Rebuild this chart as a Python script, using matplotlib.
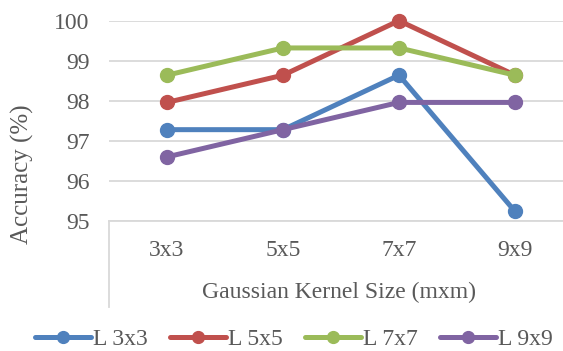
import matplotlib
matplotlib.use("Agg")
import matplotlib.pyplot as plt
from matplotlib.lines import Line2D

# kernel sizes on the x axis and accuracy per L setting
kernels = ["3x3", "5x5", "7x7", "9x9"]
acc_l3 = [97.28, 97.28, 98.64, 95.24]
acc_l5 = [97.96, 98.64, 100.0, 98.64]
acc_l7 = [98.64, 99.32, 99.32, 98.64]
acc_l9 = [96.60, 97.28, 97.96, 97.96]
series_names = ["L 3x3", "L 5x5", "L 7x7", "L 9x9"]
colors = ["#4F81BD", "#C0504D", "#9BBB59", "#8064A2"]

plt.rcParams['font.family'] = ['Liberation Serif', 'DejaVu Serif']
text_col = "#595959"
grid_col = "#D9D9D9"
fs = 17

W, H = 563, 351
fig = plt.figure(figsize=(W / 100, H / 100), dpi=100)
# plot area in pixels: left 109, top 20.7, bottom 221, right beyond the edge
ax = fig.add_axes([109 / W, (H - 221) / H, 464 / W, (221 - 20.7) / H])

x = range(len(kernels))
for vals, name, c in zip([acc_l3, acc_l5, acc_l7, acc_l9], series_names, colors):
    ax.plot(x, vals, color=c, lw=3.6, marker='o', ms=10, label=name,
            solid_capstyle='round', clip_on=False, zorder=3)

ax.set_xlim(-0.5, len(kernels) - 0.5)
ax.set_ylim(95, 100)
ax.set_yticks([95, 96, 97, 98, 99, 100])
ax.yaxis.grid(True, color=grid_col, lw=1.3)
ax.set_axisbelow(True)
for s in ['left', 'right', 'top']:
    ax.spines[s].set_visible(False)
ax.spines['bottom'].set_color(grid_col)
ax.spines['bottom'].set_linewidth(1.3)
ax.tick_params(axis='y', length=0, pad=14, labelsize=fs, labelcolor=text_col)
ax.tick_params(axis='x', length=0, labelbottom=False)

# category labels and axis title under the plot
for i, k in enumerate(kernels):
    xp = ax.transData.transform((i, 95))[0] / W
    fig.text(xp, 1 - 250 / H, k, ha='center', va='center', fontsize=fs, color=text_col)
fig.text(339 / W, 1 - 292 / H, "Gaussian Kernel Size (mxm)", ha='center', va='center',
         fontsize=fs, color=text_col)
fig.add_artist(Line2D([109 / W, 109 / W], [1 - 221 / H, 1 - 307 / H],
                      color=grid_col, lw=1.3, transform=fig.transFigure))

fig.text(22 / W, 1 - 174 / H, "Accuracy (%)", rotation=90, ha='center', va='center',
         fontsize=fs + 1, color=text_col)

leg = fig.legend(loc='center', bbox_to_anchor=(294 / W, 1 - 339 / H), ncol=4,
                 frameon=False, fontsize=fs, handlelength=2.37, handletextpad=0.1,
                 columnspacing=0.93, borderaxespad=0, borderpad=0, markerscale=0.85)
for t in leg.get_texts():
    t.set_color(text_col)

fig.savefig("out.png", dpi=100)
